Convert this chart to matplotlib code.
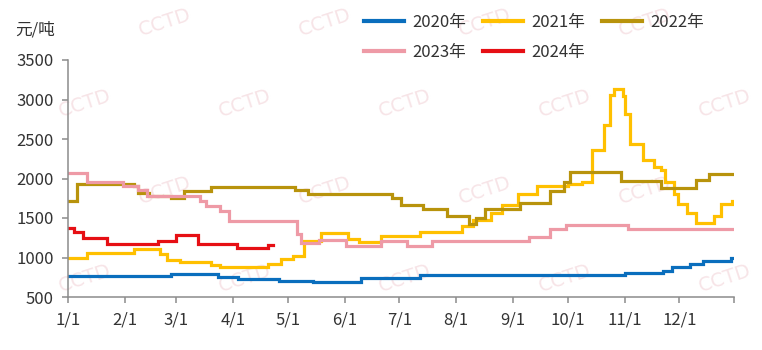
import matplotlib
matplotlib.use("Agg")
import matplotlib.pyplot as plt

plt.rcParams['font.family'] = ['Noto Sans CJK SC', 'DejaVu Sans']

# day of year where each step starts, and the price (元/吨) from there on
days_2020 = [0, 56, 82, 93, 115, 134, 160, 192, 304, 325, 330, 340, 347, 362, 365]
vals_2020 = [770, 790, 755, 725, 700, 685, 740, 775, 805, 835, 885, 915, 960, 1000, 1000]

days_2021 = [0, 10, 36, 50, 54, 61, 78, 83, 109, 116, 123, 129, 138, 153, 159, 171, 192,
             215, 221, 231, 237, 246, 256, 273, 281, 286, 293, 296, 298, 303, 304, 307,
             314, 320, 324, 326, 331, 333, 338, 343, 353, 357, 363]
vals_2021 = [1000, 1060, 1110, 1040, 970, 940, 900, 880, 920, 980, 1025, 1210, 1310, 1230, 1200, 1270, 1320,
             1400, 1470, 1560, 1660, 1800, 1900, 1930, 1960, 2360, 2680, 3060, 3130, 3050, 2820, 2440,
             2240, 2150, 2110, 1950, 1800, 1680, 1560, 1440, 1520, 1680, 1710]

days_2022 = [0, 5, 36, 38, 44, 56, 63, 78, 124, 131, 177, 182, 194, 207, 219, 223, 228,
             247, 263, 271, 274, 302, 324, 343, 350, 365]
vals_2022 = [1710, 1930, 1900, 1820, 1780, 1750, 1840, 1890, 1860, 1800, 1750, 1670, 1610, 1530, 1430, 1500, 1610,
             1690, 1840, 1960, 2080, 1970, 1880, 1980, 2060, 2060]

days_2023 = [0, 10, 30, 38, 43, 72, 75, 83, 88, 125, 127, 137, 152, 171, 185, 199, 252,
             263, 272, 306, 365]
vals_2023 = [2070, 1960, 1900, 1850, 1780, 1710, 1650, 1590, 1460, 1300, 1180, 1220, 1150, 1210, 1150, 1210, 1260,
             1360, 1410, 1360, 1360]

days_2024 = [0, 3, 8, 21, 49, 59, 71, 92, 109, 112]
vals_2024 = [1370, 1320, 1250, 1170, 1210, 1290, 1175, 1120, 1160, 1160]

series = [
    ('2020年', days_2020, vals_2020, '#0a6ebd'),
    ('2021年', days_2021, vals_2021, '#ffc000'),
    ('2022年', days_2022, vals_2022, '#b8930c'),
    ('2023年', days_2023, vals_2023, '#ee9aa6'),
    ('2024年', days_2024, vals_2024, '#e60f14'),
]

month_ticks = [0, 31, 59, 90, 120, 151, 181, 212, 243, 273, 304, 334, 364]
month_labels = ['1/1', '2/1', '3/1', '4/1', '5/1', '6/1', '7/1', '8/1', '9/1',
                '10/1', '11/1', '12/1', '']

fig = plt.figure(figsize=(7.62, 3.5), dpi=100)
ax = fig.add_axes([68.3 / 762, 53 / 350, 666 / 762, 237 / 350])
ax.set_zorder(1)
ax.patch.set_visible(False)

# faint CCTD watermark
for row, yy in enumerate([22, 103, 190, 278]):
    start = 165 if row % 2 == 0 else 85
    for xx in range(start, 740, 160):
        fig.text(xx / 762, 1 - yy / 350, 'CCTD', fontsize=14, color='#f7e4e7',
                 rotation=18, ha='center', va='center', zorder=0,
                 family='DejaVu Sans')

handles = {}
for name, d, v, c in series:
    handles[name], = ax.plot(d, v, drawstyle='steps-post', color=c, lw=2.3,
                             label=name, solid_joinstyle='miter')

ax.set_xlim(0, 364)
ax.set_ylim(500, 3500)
ax.set_yticks([500, 1000, 1500, 2000, 2500, 3000, 3500])
ax.set_xticks(month_ticks)
ax.set_xticklabels(month_labels)

for s in ['top', 'right']:
    ax.spines[s].set_visible(False)
for s in ['left', 'bottom']:
    ax.spines[s].set_color('#8c8c8c')
    ax.spines[s].set_linewidth(1.1)
ax.tick_params(axis='both', direction='out', length=4.5, width=1.1, color='#8c8c8c',
               labelsize=12, labelcolor='#333333', pad=6)

fig.text(15 / 762, 1 - 30 / 350, '元/吨', fontsize=12, color='#333333', va='center')

# legend fills by column, so order it to read 2020 2021 2022 / 2023 2024
order = ['2020年', '2023年', '2021年', '2024年', '2022年']
leg = ax.legend([handles[k] for k in order], order, ncol=3, loc='upper left',
                bbox_to_anchor=(364 / 762, 1 - 14 / 350),
                bbox_transform=fig.transFigure, frameon=False, fontsize=12,
                handlelength=2.4, handletextpad=0.5, columnspacing=1.0,
                labelspacing=0.8, borderpad=0, borderaxespad=0, labelcolor='#333333')
for line in leg.get_lines():
    line.set_linewidth(3)

fig.savefig('out.png', dpi=100)
